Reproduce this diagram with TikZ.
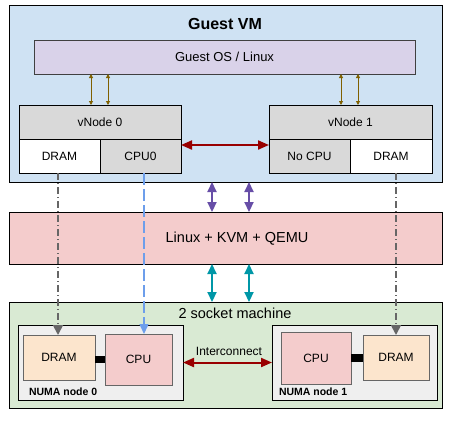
\documentclass[tikz,border=0pt]{standalone}
\usepackage{fontspec}
\setmainfont{Liberation Sans}
\usetikzlibrary{arrows.meta,calc}
\definecolor{vmblue}{HTML}{CFE2F3}
\definecolor{oslav}{HTML}{D9D2E9}
\definecolor{vgray}{HTML}{D9D9D9}
\definecolor{kvmpink}{HTML}{F4CCCC}
\definecolor{hwgreen}{HTML}{D9EAD3}
\definecolor{numagray}{HTML}{EFEFEF}
\definecolor{drampeach}{HTML}{FCE5CD}
\definecolor{darkred}{HTML}{990000}
\definecolor{brownish}{HTML}{7F6000}
\definecolor{purp}{HTML}{674EA7}
\definecolor{tealc}{HTML}{0097A7}
\definecolor{dgray}{HTML}{666666}
\definecolor{lblue}{HTML}{6D9EEB}
\tikzset{
  box/.style={draw=black, line width=1pt, inner sep=0pt, outer sep=0pt, font=\fontsize{12}{14}\selectfont},
  graybox/.style={draw=dgray, line width=1pt, inner sep=0pt, outer sep=0pt, font=\fontsize{12}{14}\selectfont},
  lbl/.style={inner sep=0pt, outer sep=0pt},
  brarr/.style={draw=brownish, line width=0.9pt, {Triangle[length=4pt,width=4pt]}-{Triangle[length=4pt,width=4pt]}},
  redarr/.style={draw=darkred, line width=2pt, {Triangle[length=11pt,width=9pt]}-{Triangle[length=11pt,width=9pt]}},
  purarr/.style={draw=purp, line width=2.2pt, {Triangle[length=10pt,width=9pt]}-{Triangle[length=10pt,width=9pt]}},
  tealarr/.style={draw=tealc, line width=2.2pt, {Triangle[length=10pt,width=9pt]}-{Triangle[length=10pt,width=9pt]}},
  dashdotarr/.style={draw=dgray, line width=1.8pt, dash pattern=on 7pt off 3pt on 1pt off 3pt, -{Triangle[length=10pt,width=10pt]}},
  bluearr/.style={draw=lblue, line width=1.6pt, dash pattern=on 12pt off 4pt, -{Triangle[length=10pt,width=9pt]}},
  bus/.style={draw=black, line width=7.5pt}
}
\begin{document}
\begin{tikzpicture}[x=1pt,y=-1pt]
\useasboundingbox (0,0) rectangle (450,421);
% Guest VM
\node[box, fill=vmblue, minimum width=433, minimum height=177] (vm) at (225.5,93.5) {};
\node[lbl, font=\fontsize{16}{18}\selectfont\bfseries] (vmt) at (225,24) {Guest VM};
\node[box, draw=black!75, fill=oslav, minimum width=381, minimum height=34, font=\fontsize{13}{15}\selectfont] (gos) at (224.5,57) {Guest OS / Linux};
\node[box, fill=vgray, minimum width=162, minimum height=34] (v0) at (100,122) {vNode 0};
\node[box, fill=white, minimum width=81, minimum height=34] (v0dram) at (59.5,156) {DRAM};
\node[box, fill=vgray, minimum width=81, minimum height=34] (v0cpu) at (140.5,156) {CPU0};
\node[box, fill=vgray, minimum width=163, minimum height=34] (v1) at (350.5,122) {vNode 1};
\node[box, fill=vgray, minimum width=81, minimum height=34] (v1cpu) at (309.5,156) {No CPU};
\node[box, fill=white, minimum width=82, minimum height=34] (v1dram) at (391,156) {DRAM};
% Linux + KVM
\node[box, fill=kvmpink, minimum width=433, minimum height=52] (kvm) at (225.5,238) {};
\node[lbl, font=\fontsize{14.5}{17}\selectfont] (kvmt) at (237,239) {Linux + KVM + QEMU};
% 2 socket machine
\node[box, fill=hwgreen, minimum width=433, minimum height=106] (hw) at (225.5,355) {};
\node[lbl, font=\fontsize{14.5}{17}\selectfont] (hwt) at (235,313) {2 socket machine};
\node[box, fill=numagray, minimum width=165, minimum height=75] (numa0) at (100.5,362.5) {};
\node[box, fill=numagray, minimum width=165, minimum height=75] (numa1) at (354.5,362.5) {};
\node[graybox, fill=drampeach, minimum width=72, minimum height=45] (n0dram) at (59,357.5) {DRAM};
\node[graybox, fill=kvmpink, minimum width=67, minimum height=51] (n0cpu) at (138.5,359.5) {CPU};
\node[graybox, fill=kvmpink, minimum width=70, minimum height=52] (n1cpu) at (316,358) {CPU};
\node[graybox, fill=drampeach, minimum width=66, minimum height=45] (n1dram) at (396,357.5) {DRAM};
\node[lbl, anchor=west, font=\fontsize{10.5}{12}\selectfont\bfseries] (n0lbl) at (29,392) {NUMA node 0};
\node[lbl, anchor=west, font=\fontsize{10.5}{12}\selectfont\bfseries] (n1lbl) at (279,392) {NUMA node 1};
\node[lbl, font=\fontsize{12}{14}\selectfont] (ic) at (229,351) {Interconnect};
% buses
\draw[bus] (n0cpu.west -| n0dram.east) -- (n0cpu.west);
\draw[bus] (n1cpu.east) -- (n1cpu.east -| n1dram.west);
% brown arrows
\draw[brarr] ([xshift=-9]v0.north) -- ([xshift=-9]v0.north |- gos.south);
\draw[brarr] ([xshift=8]v0.north) -- ([xshift=8]v0.north |- gos.south);
\draw[brarr] ([xshift=-9.5]v1.north) -- ([xshift=-9.5]v1.north |- gos.south);
\draw[brarr] ([xshift=7.5]v1.north) -- ([xshift=7.5]v1.north |- gos.south);
% red arrows
\draw[redarr] ([yshift=11]v0cpu.east) -- ([yshift=11]v1cpu.west);
\draw[redarr] (numa0.east) -- (numa1.west);
% purple and teal
\draw[purarr] ([xshift=-13.5]kvm.north) -- ([xshift=-13.5]kvm.north |- vm.south);
\draw[purarr] ([xshift=23.5]kvm.north) -- ([xshift=23.5]kvm.north |- vm.south);
\draw[tealarr] ([xshift=-13.5]kvm.south) -- ([xshift=-13.5]kvm.south |- hw.north);
\draw[tealarr] ([xshift=23.5]kvm.south) -- ([xshift=23.5]kvm.south |- hw.north);
% memory / cpu mapping
\draw[dashdotarr] ([xshift=-1.5]v0dram.south) -- ([xshift=-1.5]v0dram.south |- n0dram.north);
\draw[dashdotarr] (n1dram.north |- v1dram.south) -- (n1dram.north);
\draw[bluearr] ([xshift=3.5]v0cpu.south) -- ([xshift=3.5]v0cpu.south |- n0cpu.north);
\end{tikzpicture}
\end{document}
